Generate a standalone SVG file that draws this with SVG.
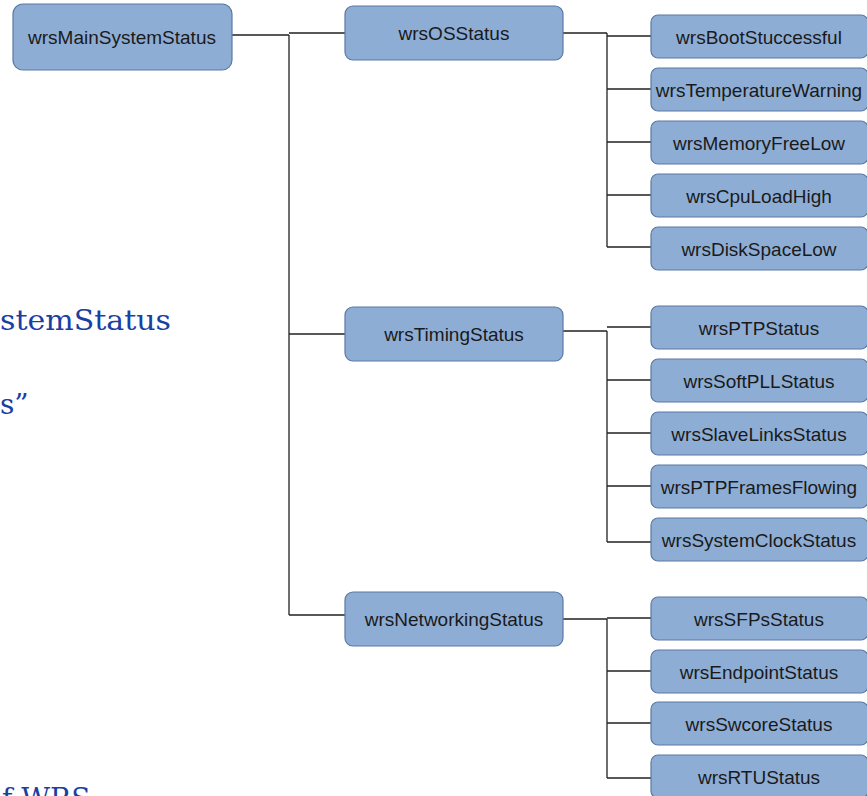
<svg xmlns="http://www.w3.org/2000/svg" width="867" height="796" viewBox="0 0 867 796">
<style>
.n{fill:#8eadd5;stroke:#5b79a3;stroke-width:1.2}
.t{font-family:"Liberation Sans",Arial,sans-serif;font-size:19px;fill:#1a1a1a;text-anchor:middle;dominant-baseline:central}
.c{fill:none;stroke:#222;stroke-width:1.3}
.bg{font-family:"DejaVu Serif","Liberation Serif",serif;font-size:28px;fill:#1a3fa3}
</style>
<rect width="867" height="796" fill="#fff"/>
<text class="bg" x="0" y="330" textLength="171" lengthAdjust="spacingAndGlyphs">stemStatus</text>
<text class="bg" x="0" y="414">s”</text>
<text class="bg" x="2" y="808">f WRS</text>
<g id="connectors">
<path class="c" d="M232 35H289M289 35V615M289 33H345M289 334H345M289 615H345"/>
<path class="c" d="M563 33H607M607 33V247M607 36H651M607 89H651M607 142H651M607 195H651M607 247H651"/>
<path class="c" d="M563 331H607M607 331V542M607 327H651M607 380H651M607 433H651M607 486H651M607 542H651"/>
<path class="c" d="M563 619H607M607 619V778M607 618H651M607 671H651M607 723H651M607 778H651"/>
</g>
<g id="main"><rect class="n" x="13" y="4" width="219" height="66" rx="10"/><text class="t" x="122" y="37">wrsMainSystemStatus</text></g>
<g id="os"><rect class="n" x="345" y="6" width="218" height="54" rx="8"/><text class="t" x="454" y="33">wrsOSStatus</text></g>
<g id="timing"><rect class="n" x="345" y="307" width="218" height="54" rx="8"/><text class="t" x="454" y="334">wrsTimingStatus</text></g>
<g id="networking"><rect class="n" x="345" y="592" width="218" height="54" rx="8"/><text class="t" x="454" y="619">wrsNetworkingStatus</text></g>
<g id="boot"><rect class="n" x="651" y="15" width="217" height="43" rx="7"/><text class="t" x="759" y="37">wrsBootStuccessful</text></g>
<g id="temp"><rect class="n" x="651" y="68" width="217" height="43" rx="7"/><text class="t" x="759" y="90">wrsTemperatureWarning</text></g>
<g id="mem"><rect class="n" x="651" y="121" width="217" height="43" rx="7"/><text class="t" x="759" y="143">wrsMemoryFreeLow</text></g>
<g id="cpu"><rect class="n" x="651" y="174" width="217" height="43" rx="7"/><text class="t" x="759" y="196">wrsCpuLoadHigh</text></g>
<g id="disk"><rect class="n" x="651" y="227" width="217" height="43" rx="7"/><text class="t" x="759" y="249">wrsDiskSpaceLow</text></g>
<g id="ptp"><rect class="n" x="651" y="306" width="217" height="43" rx="7"/><text class="t" x="759" y="328">wrsPTPStatus</text></g>
<g id="softpll"><rect class="n" x="651" y="359" width="217" height="43" rx="7"/><text class="t" x="759" y="381">wrsSoftPLLStatus</text></g>
<g id="slave"><rect class="n" x="651" y="412" width="217" height="43" rx="7"/><text class="t" x="759" y="434">wrsSlaveLinksStatus</text></g>
<g id="frames"><rect class="n" x="651" y="465" width="217" height="43" rx="7"/><text class="t" x="759" y="487">wrsPTPFramesFlowing</text></g>
<g id="clock"><rect class="n" x="651" y="518" width="217" height="43" rx="7"/><text class="t" x="759" y="540">wrsSystemClockStatus</text></g>
<g id="sfp"><rect class="n" x="651" y="597" width="217" height="43" rx="7"/><text class="t" x="759" y="619">wrsSFPsStatus</text></g>
<g id="endpoint"><rect class="n" x="651" y="650" width="217" height="43" rx="7"/><text class="t" x="759" y="672">wrsEndpointStatus</text></g>
<g id="swcore"><rect class="n" x="651" y="702" width="217" height="43" rx="7"/><text class="t" x="759" y="724">wrsSwcoreStatus</text></g>
<g id="rtu"><rect class="n" x="651" y="755" width="217" height="43" rx="7"/><text class="t" x="759" y="777">wrsRTUStatus</text></g>
</svg>
